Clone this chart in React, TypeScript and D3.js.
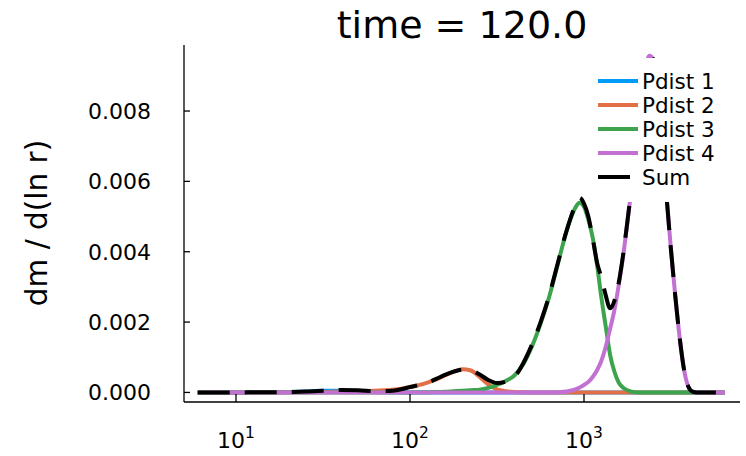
import { useEffect, useRef } from "react";
import * as d3 from "d3";

// radius grid (log10 r) shared by every series
const log10Radius = [
  0.78, 0.9, 1.0, 1.1, 1.2, 1.3, 1.4, 1.5, 1.6, 1.7, 1.8,
  1.85, 1.9, 1.95, 2.0, 2.05, 2.1, 2.15, 2.2, 2.25, 2.3, 2.35, 2.4, 2.45, 2.5, 2.55, 2.6, 2.65, 2.7, 2.75, 2.8, 2.85, 2.9, 2.95,
  2.975, 3.0, 3.025, 3.05, 3.075, 3.1, 3.125, 3.15, 3.175, 3.2, 3.225, 3.25, 3.275, 3.3, 3.325, 3.35, 3.375, 3.4, 3.425, 3.45, 3.475, 3.5, 3.525, 3.55, 3.575, 3.6, 3.625, 3.65,
  3.7, 3.81,
];

// dm / d(ln r), in units of 1e-3
const pdist1 = [
  0, 0, 0, 0, 0.003, 0.011, 0.028, 0.045, 0.048, 0.031, 0.014,
  0.0085, 0.004, 0.0015, 0, 0, 0, 0, 0, 0, 0, 0, 0, 0, 0, 0, 0, 0, 0, 0, 0, 0, 0, 0,
  0, 0, 0, 0, 0, 0, 0, 0, 0, 0, 0, 0, 0, 0, 0, 0, 0, 0, 0, 0, 0, 0, 0, 0, 0, 0, 0, 0,
  0, 0,
];
const pdist2 = [
  0, 0, 0, 0, 0, 0.003, 0.0085, 0.014, 0.023, 0.034, 0.048,
  0.0625, 0.08, 0.108, 0.153, 0.207, 0.276, 0.369, 0.483, 0.582, 0.659, 0.625, 0.44, 0.227, 0.085, 0.034, 0.011, 0.003, 0, 0, 0, 0, 0, 0,
  0, 0, 0, 0, 0, 0, 0, 0, 0, 0, 0, 0, 0, 0, 0, 0, 0, 0, 0, 0, 0, 0, 0, 0, 0, 0, 0, 0,
  0, 0,
];
const pdist3 = [
  0, 0, 0, 0, 0, 0, 0, 0, 0, 0, 0,
  0, 0, 0, 0, 0.002, 0.006, 0.011, 0.02, 0.034, 0.048, 0.063, 0.077, 0.128, 0.213, 0.327, 0.483, 0.795, 1.3, 1.95, 2.72, 3.66, 4.59, 5.25,
  5.39, 5.28, 4.91, 4.4, 3.63, 2.69, 1.87, 1.07, 0.588, 0.276, 0.134, 0.063, 0.02, 0.005, 0, 0, 0, 0, 0, 0, 0, 0, 0, 0, 0, 0, 0, 0,
  0, 0,
];
const pdist4 = [
  0, 0, 0, 0, 0, 0, 0, 0, 0, 0, 0,
  0, 0, 0, 0, 0, 0, 0, 0, 0, 0, 0, 0, 0, 0, 0, 0, 0, 0, 0, 0, 0.006, 0.026, 0.085,
  0.142, 0.213, 0.3, 0.44, 0.63, 0.9, 1.3, 1.81, 2.35, 3.06, 3.88, 4.85, 5.9, 7.04, 8.17, 9.11, 9.57, 9.45, 8.6, 7.18, 5.53, 4.05, 2.72, 1.55, 0.645, 0.162, 0.02, 0,
  0, 0,
];
const sumValues = [
  0, 0, 0, 0.003, 0.006, 0.011, 0.023, 0.045, 0.068, 0.065, 0.037,
  0.04, 0.051, 0.091, 0.153, 0.207, 0.278, 0.384, 0.497, 0.591, 0.645, 0.625, 0.511, 0.355, 0.267, 0.307, 0.44, 0.824, 1.35, 1.99, 2.76, 3.69, 4.6, 5.31,
  5.53, 5.37, 5.0, 4.38, 3.69, 3.27, 2.76, 2.39, 2.61, 3.13, 3.92, 4.89, 5.91, 7.04, 8.17, 9.11, 9.57, 9.45, 8.6, 7.18, 5.53, 4.05, 2.72, 1.55, 0.645, 0.162, 0.02, 0,
  0, 0,
];

const seriesNames = ["Pdist 1", "Pdist 2", "Pdist 3", "Pdist 4"];
const seriesColors = ["#009af9", "#e26f46", "#3da44d", "#c271d2"];
const seriesValues = [pdist1, pdist2, pdist3, pdist4];

const yTicks = [0, 0.002, 0.004, 0.006, 0.008];
const xTicks = [10, 100, 1000];
const xTickExponents = ["1", "2", "3"];

const font = "DejaVu Sans";

const App = () => {
  const svgRef = useRef<SVGSVGElement>(null);

  useEffect(() => {
    const svg = d3.select(svgRef.current);
    svg.selectAll("*").remove();

    const plot = { left: 184, right: 740, top: 45, bottom: 402 };

    const x = d3
      .scaleLog()
      .domain([10 ** 0.70115, 10 ** 3.89655])
      .range([plot.left, plot.right]);
    const y = d3
      .scaleLinear()
      .domain([-0.000272, 0.009877])
      .range([plot.bottom, plot.top]);

    const line = d3
      .line<number>()
      .x((d, i) => x(10 ** log10Radius[i]))
      .y((d) => y(d * 1e-3))
      .curve(d3.curveMonotoneX);

    svg
      .append("defs")
      .append("clipPath")
      .attr("id", "plot-clip")
      .append("rect")
      .attr("x", plot.left)
      .attr("y", plot.top)
      .attr("width", plot.right - plot.left)
      .attr("height", plot.bottom - plot.top);

    const lines = svg.append("g").attr("clip-path", "url(#plot-clip)");
    seriesValues.forEach((vals, k) => {
      lines
        .append("path")
        .attr("d", line(vals))
        .attr("fill", "none")
        .attr("stroke", seriesColors[k])
        .attr("stroke-width", 4)
        .attr("stroke-linejoin", "round");
    });
    lines
      .append("path")
      .attr("d", line(sumValues))
      .attr("fill", "none")
      .attr("stroke", "#000")
      .attr("stroke-width", 4)
      .attr("stroke-dasharray", "32,15");

    // axes
    const axes = svg.append("g").attr("stroke", "#000").attr("stroke-width", 1.3);
    axes
      .append("line")
      .attr("x1", plot.left)
      .attr("x2", plot.left)
      .attr("y1", plot.top)
      .attr("y2", plot.bottom);
    axes
      .append("line")
      .attr("x1", plot.left)
      .attr("x2", plot.right)
      .attr("y1", plot.bottom)
      .attr("y2", plot.bottom);

    yTicks.forEach((t) => {
      axes
        .append("line")
        .attr("x1", plot.left)
        .attr("x2", plot.left + 6)
        .attr("y1", y(t))
        .attr("y2", y(t));
      svg
        .append("text")
        .attr("x", 151)
        .attr("y", y(t) + 7.8)
        .attr("text-anchor", "end")
        .attr("font-family", font)
        .attr("font-size", 22)
        .text(d3.format(".3f")(t));
    });

    xTicks.forEach((t, i) => {
      axes
        .append("line")
        .attr("x1", x(t))
        .attr("x2", x(t))
        .attr("y1", plot.bottom)
        .attr("y2", plot.bottom - 8);
      const label = svg
        .append("text")
        .attr("x", x(t))
        .attr("y", 448)
        .attr("text-anchor", "middle")
        .attr("font-family", font)
        .attr("font-size", 22);
      label.append("tspan").text("10");
      label
        .append("tspan")
        .attr("dy", -10)
        .attr("font-size", 15.5)
        .text(xTickExponents[i]);
    });

    // title and y label
    svg
      .append("text")
      .attr("x", (plot.left + plot.right) / 2)
      .attr("y", 38)
      .attr("text-anchor", "middle")
      .attr("font-family", font)
      .attr("font-size", 38)
      .text("time = 120.0");

    svg
      .append("text")
      .attr("transform", "translate(47,223) rotate(-90)")
      .attr("text-anchor", "middle")
      .attr("font-family", font)
      .attr("font-size", 29.5)
      .text("dm / d(ln r)");

    // legend
    const legend = svg.append("g");
    legend
      .append("rect")
      .attr("x", 588)
      .attr("y", 58)
      .attr("width", 152)
      .attr("height", 144)
      .attr("fill", "#fff");

    const entries = seriesNames.map((n, i) => ({ name: n, color: seriesColors[i], dash: null as string | null }));
    entries.push({ name: "Sum", color: "#000", dash: "32,15" });
    entries.forEach((e, i) => {
      const cy = 81 + i * 24;
      legend
        .append("line")
        .attr("x1", 598)
        .attr("x2", 638)
        .attr("y1", cy)
        .attr("y2", cy)
        .attr("stroke", e.color)
        .attr("stroke-width", 4)
        .attr("stroke-dasharray", e.dash);
      legend
        .append("text")
        .attr("x", 642)
        .attr("y", cy + 7.8)
        .attr("font-family", font)
        .attr("font-size", 21.5)
        .text(e.name);
    });
  }, []);

  return (
    <svg
      ref={svgRef}
      width={746}
      height={456}
      style={{ position: "absolute", left: 0, top: 0, background: "#fff" }}
    />
  );
};

export default App;
